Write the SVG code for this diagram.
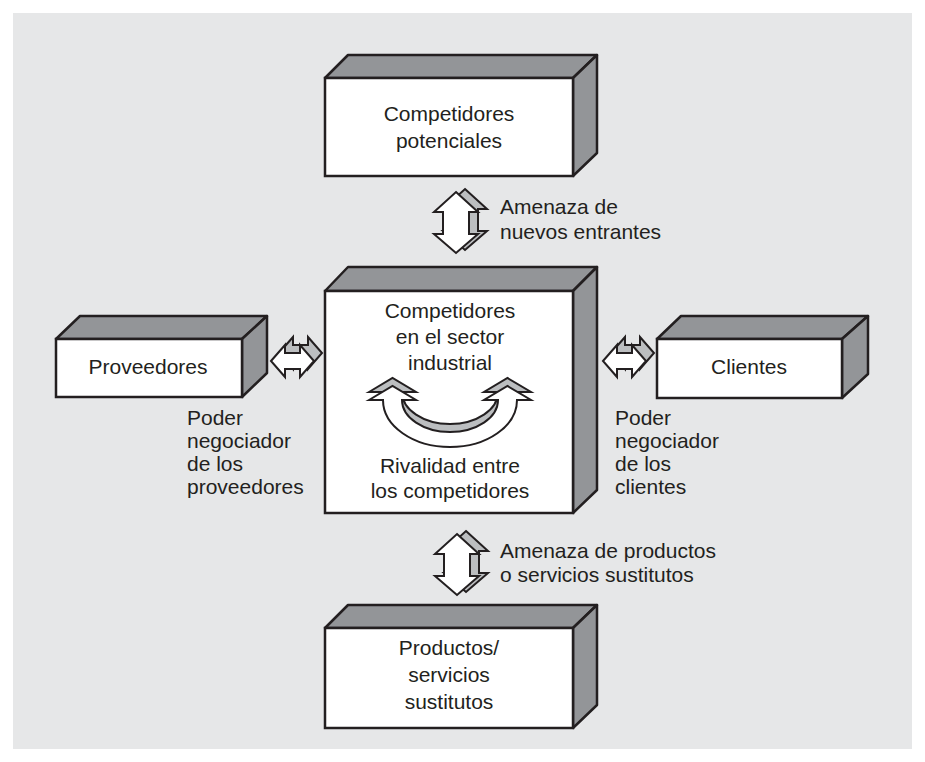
<svg xmlns="http://www.w3.org/2000/svg" width="925" height="762" viewBox="0 0 925 762">
<defs>
<style>
.face{fill:#939598;stroke:#231f20;stroke-width:2.5;stroke-linejoin:round}
.front{fill:#ffffff;stroke:#231f20;stroke-width:2.5}
.aw{fill:#ffffff;stroke:#231f20;stroke-width:2;stroke-linejoin:miter}
.ag{fill:#bcbec0;stroke:#231f20;stroke-width:2;stroke-linejoin:miter}
text{font-family:"Liberation Sans",Arial,sans-serif;font-size:21px;fill:#231f20}
.c{text-anchor:middle}
</style>
<path id="varrow" d="M0,0 L22,20 L13,20 L13,42 L22,42 L0,61 L-22,42 L-13,42 L-13,20 L-22,20 Z"/>
<path id="harrow" d="M0,0 L14,-16 L14,-8 L29,-8 L29,-16 L43,0 L29,16 L29,8 L14,8 L14,16 Z"/>
</defs>
<rect x="0" y="0" width="925" height="762" fill="#ffffff"/>
<rect x="13" y="13" width="899" height="736" fill="#e6e7e8"/>

<g id="competidores-potenciales">
<polygon class="face" points="325,78 348,55 597,55 573,78"/>
<polygon class="face" points="573,78 597,55 597,153 573,176"/>
<rect class="front" x="325" y="78" width="248" height="98"/>
<text class="c" x="449" y="121">Competidores</text>
<text class="c" x="449" y="148">potenciales</text>
</g>

<g id="competidores-sector">
<polygon class="face" points="325,291 348,267 597,267 573,291"/>
<polygon class="face" points="573,291 597,267 597,490 573,513"/>
<rect class="front" x="325" y="291" width="248" height="222"/>
<text class="c" x="450" y="318">Competidores</text>
<text class="c" x="450" y="344">en el sector</text>
<text class="c" x="450" y="370">industrial</text>
<text class="c" x="450" y="473">Rivalidad entre</text>
<text class="c" x="450" y="498">los competidores</text>
</g>

<g id="proveedores">
<polygon class="face" points="56,339 80,316 267,316 242,339"/>
<polygon class="face" points="242,339 267,316 267,373 242,397"/>
<rect class="front" x="56" y="339" width="186" height="58"/>
<text class="c" x="148" y="374">Proveedores</text>
</g>

<g id="clientes">
<polygon class="face" points="657,339 681,316 868,316 842,339"/>
<polygon class="face" points="842,339 868,316 868,374 842,398"/>
<rect class="front" x="657" y="339" width="185" height="59"/>
<text class="c" x="749" y="374">Clientes</text>
</g>

<g id="productos-sustitutos">
<polygon class="face" points="325,628 348,605 597,605 573,628"/>
<polygon class="face" points="573,628 597,605 597,705 573,728"/>
<rect class="front" x="325" y="628" width="248" height="100"/>
<text class="c" x="449" y="655">Productos/</text>
<text class="c" x="449" y="682">servicios</text>
<text class="c" x="449" y="709">sustitutos</text>
</g>

<g id="connectors">
<use href="#varrow" class="ag" transform="translate(465,189)"/>
<use href="#varrow" class="aw" transform="translate(456,192)"/>
<use href="#varrow" class="ag" transform="translate(466,531)"/>
<use href="#varrow" class="aw" transform="translate(457,534)"/>
<use href="#harrow" class="ag" transform="translate(279,353)"/>
<use href="#harrow" class="aw" transform="translate(271,361)"/>
<use href="#harrow" class="ag" transform="translate(611,353)"/>
<use href="#harrow" class="aw" transform="translate(603,361)"/>
<g id="rivalry-arrow">
<path class="ag" transform="translate(0,-8)" d="M369,400 L392.5,386 L416,400 L402,400 A48,32 0 0 0 498,400 L484,400 L507.5,386 L531,400 L517,400 A67,47 0 0 1 383,400 Z"/>
<path class="aw" d="M369,400 L392.5,386 L416,400 L402,400 A48,32 0 0 0 498,400 L484,400 L507.5,386 L531,400 L517,400 A67,47 0 0 1 383,400 Z"/>
</g>
</g>

<g id="labels">
<text x="500" y="214">Amenaza de</text>
<text x="500" y="239">nuevos entrantes</text>
<text x="500" y="558">Amenaza de productos</text>
<text x="500" y="582">o servicios sustitutos</text>
<text x="187" y="425">Poder</text>
<text x="187" y="448">negociador</text>
<text x="187" y="471">de los</text>
<text x="187" y="494">proveedores</text>
<text x="615" y="425">Poder</text>
<text x="615" y="448">negociador</text>
<text x="615" y="471">de los</text>
<text x="615" y="494">clientes</text>
</g>
</svg>
